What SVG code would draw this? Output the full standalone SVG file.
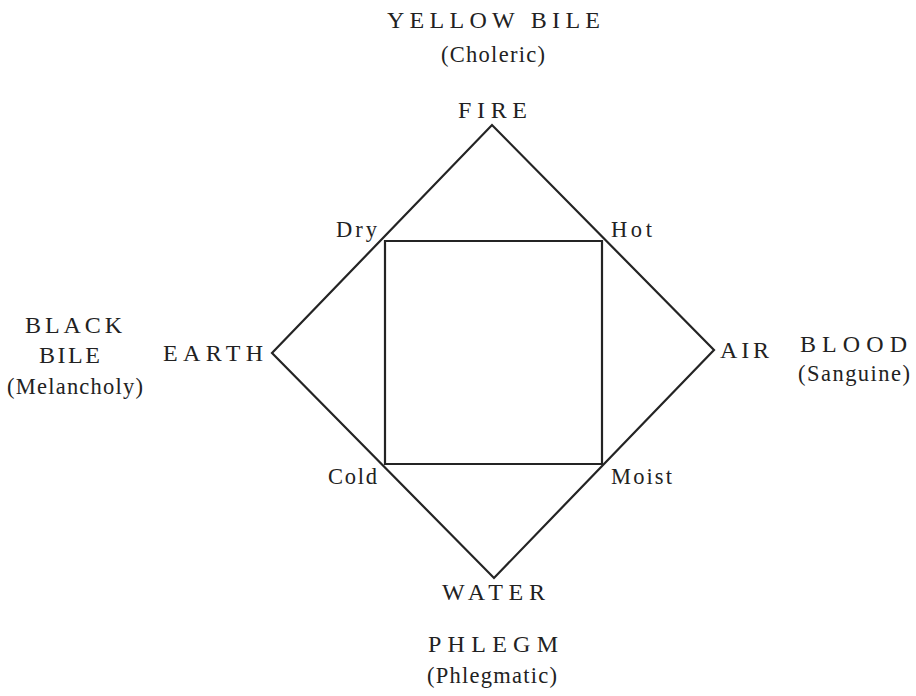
<svg xmlns="http://www.w3.org/2000/svg" width="916" height="696" viewBox="0 0 916 696">
<style>
.cap{font-family:"Liberation Serif","Times New Roman",serif;font-size:24px;fill:#222222;}
.low{font-family:"Liberation Serif","Times New Roman",serif;font-size:22.5px;fill:#222222;}
.ln{stroke:#242424;stroke-width:2.2;fill:none;stroke-linejoin:miter;}
</style>
<rect width="916" height="696" fill="#ffffff"/>
<g id="connectors">
<path class="ln" d="M272,353 L492,125 L714,350 L494,578 Z"/>
<path class="ln" d="M385,241 L602,241 L602,464 L385,464 Z"/>
</g>
<g id="yellow-bile">
<text class="cap" x="387" y="28" textLength="213" lengthAdjust="spacing">YELLOW BILE</text>
<text class="low" x="441" y="62" textLength="104" lengthAdjust="spacing">(Choleric)</text>
</g>
<g id="fire"><text class="cap" x="458" y="118" textLength="69" lengthAdjust="spacing">FIRE</text></g>
<g id="black-bile">
<text class="cap" x="25" y="333" textLength="97" lengthAdjust="spacing">BLACK</text>
<text class="cap" x="39" y="363" textLength="61" lengthAdjust="spacing">BILE</text>
<text class="low" x="7" y="394" textLength="136" lengthAdjust="spacing">(Melancholy)</text>
</g>
<g id="earth"><text class="cap" x="163" y="361" textLength="100" lengthAdjust="spacing">EARTH</text></g>
<g id="air"><text class="cap" x="720" y="358" textLength="49" lengthAdjust="spacing">AIR</text></g>
<g id="blood">
<text class="cap" x="800" y="352" textLength="107" lengthAdjust="spacing">BLOOD</text>
<text class="low" x="798" y="381" textLength="112" lengthAdjust="spacing">(Sanguine)</text>
</g>
<g id="water"><text class="cap" x="442" y="600" textLength="103" lengthAdjust="spacing">WATER</text></g>
<g id="phlegm">
<text class="cap" x="428" y="652" textLength="130" lengthAdjust="spacing">PHLEGM</text>
<text class="low" x="427" y="683" textLength="130" lengthAdjust="spacing">(Phlegmatic)</text>
</g>
<g id="dry"><text class="low" x="336" y="237" textLength="41" lengthAdjust="spacing">Dry</text></g>
<g id="hot"><text class="low" x="611" y="237" textLength="41" lengthAdjust="spacing">Hot</text></g>
<g id="cold"><text class="low" x="328" y="484" textLength="49" lengthAdjust="spacing">Cold</text></g>
<g id="moist"><text class="low" x="611" y="484" textLength="61" lengthAdjust="spacing">Moist</text></g>
</svg>
